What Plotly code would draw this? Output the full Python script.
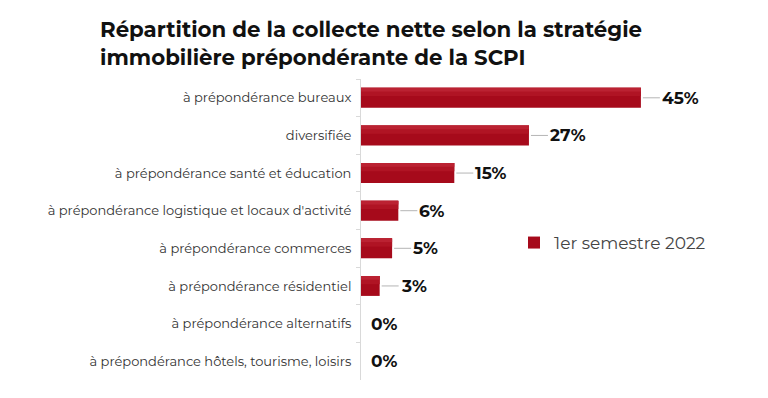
import plotly.graph_objects as go

categories = [
    "à prépondérance bureaux",
    "diversifiée",
    "à prépondérance santé et éducation",
    "à prépondérance logistique et locaux d'activité",
    "à prépondérance commerces",
    "à prépondérance résidentiel",
    "à prépondérance alternatifs",
    "à prépondérance hôtels, tourisme, loisirs",
]
values = [45, 27, 15, 6, 5, 3, 0, 0]
labels = ["45%", "27%", "15%", "6%", "5%", "3%", "0%", "0%"]
series_name = "1er semestre 2022"
title = "Répartition de la collecte nette selon la stratégie<br>immobilière prépondérante de la SCPI"

FONT = "Montserrat, 'Open Sans', sans-serif"
RED = "#a60a1b"
RED_BANDS = ["#b01424", "#bb2232"]  # subtle lighter bands towards the top

# layout geometry (figure pixels; page adds an 8px body margin)
L, T, PW, PH = 353, 71, 311, 301
W, H = 768, 398

fig = go.Figure()
fig.add_trace(go.Bar(
    x=values, y=categories, orientation="h", name=series_name,
    marker=dict(color=RED, line=dict(width=0)), width=0.53,
    hoverinfo="x+y",
))
# lighter bands to mimic the vertical gradient of the original bars
fig.add_trace(go.Bar(
    x=values, y=categories, orientation="h", showlegend=False,
    marker=dict(color=RED_BANDS[0], line=dict(width=0)), width=0.22, offset=-0.265,
    hoverinfo="skip",
))
fig.add_trace(go.Bar(
    x=values, y=categories, orientation="h", showlegend=False,
    marker=dict(color=RED_BANDS[1], line=dict(width=0)), width=0.1, offset=-0.265,
    hoverinfo="skip",
))

annotations = []
for c, v, t in zip(categories, values, labels):
    if v > 0:
        annotations.append(dict(
            x=v, y=c, xref="x", yref="y", text="<b>" + t + "</b>", showarrow=True,
            arrowhead=0, arrowwidth=1, arrowcolor="#b5b5b5",
            ax=19, ay=0, axref="pixel", ayref="pixel", xanchor="left",
            standoff=2, font=dict(family=FONT, size=17, color="#111"),
        ))
    else:
        annotations.append(dict(
            x=v, y=c, xref="x", yref="y", text="<b>" + t + "</b>", showarrow=False,
            xanchor="left", xshift=8, font=dict(family=FONT, size=17, color="#111"),
        ))

annotations.append(dict(
    text="<b>" + title + "</b>", xref="paper", yref="paper",
    x=(90 - L) / PW, y=(T + PH - 6) / PH, xanchor="left", yanchor="top",
    align="left", showarrow=False,
    font=dict(family=FONT, size=21.3, color="#111"),
))

fig.update_layout(
    width=W, height=H,
    margin=dict(l=L, r=W - L - PW, t=T, b=H - T - PH),
    paper_bgcolor="white", plot_bgcolor="white",
    barmode="overlay",
    font=dict(family=FONT, color="#333"),
    xaxis=dict(range=[0, 50], visible=False),
    yaxis=dict(autorange="reversed", showline=True, linecolor="#d9d9d9", linewidth=1,
               ticks="outside", ticklen=4, tickcolor="#d9d9d9", tickson="boundaries",
               ticklabelstandoff=6, tickfont=dict(family=FONT, size=13, color="#333"),
               showgrid=False),
    showlegend=True,
    legend=dict(x=(506 - L) / PW, y=(T + PH - 235) / PH, xanchor="left", yanchor="middle",
                font=dict(family=FONT, size=17, color="#444"), bgcolor="rgba(0,0,0,0)",
                itemwidth=30),
    annotations=annotations,
)

fig.write_html("out.html")
